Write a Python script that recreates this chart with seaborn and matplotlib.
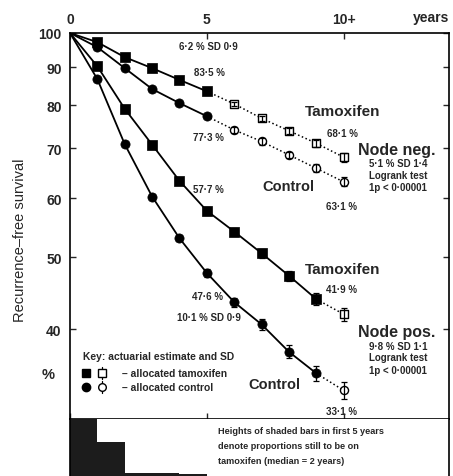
import numpy as np
import pandas as pd
import seaborn as sns
import matplotlib.pyplot as plt

# recurrence-free survival (%), years 0..10
years = [0, 1, 2, 3, 4, 5, 6, 7, 8, 9, 10]
neg_tam = [100, 97.2, 92.8, 89.7, 86.5, 83.5, 80.3, 76.8, 73.9, 71.1, 68.1]
neg_ctl = [100, 95.7, 89.7, 84.1, 80.5, 77.3, 74.1, 71.5, 68.6, 65.8, 63.1]
pos_tam = [100, 90.2, 79.1, 70.8, 63.3, 57.7, 54.1, 50.6, 47.2, 43.9, 41.9]
pos_ctl = [100, 86.7, 70.9, 60.3, 53.0, 47.6, 43.5, 40.6, 37.3, 34.9, 33.1]

neg_tam_sd = [0, 0.2, 0.3, 0.4, 0.4, 0.5, 0.6, 0.6, 0.7, 0.8, 0.9]
neg_ctl_sd = [0, 0.2, 0.3, 0.4, 0.5, 0.5, 0.6, 0.7, 0.7, 0.8, 0.9]
pos_tam_sd = [0, 0.3, 0.4, 0.5, 0.5, 0.6, 0.6, 0.7, 0.7, 0.8, 0.85]
pos_ctl_sd = [0, 0.3, 0.4, 0.5, 0.5, 0.6, 0.6, 0.7, 0.75, 0.8, 0.85]

# proportion still on tamoxifen, per year of first 5 years
bar_years = [0, 1, 2, 3, 4]
on_tam = [1.0, 0.6, 0.06, 0.06, 0.04]

ytick_vals = [40, 50, 60, 70, 80, 90, 100]
xtick_vals = [0, 5, 10]
xtick_labels = ['0', '5', '10+']

W, H = 453, 477


def fx(x, y):
    return x / W, 1 - y / H


sns.set_style('white')
plt.rcParams['font.family'] = ['Liberation Sans', 'DejaVu Sans']

fig = plt.figure(figsize=(W / 100, H / 100), dpi=100)
ax = fig.add_axes([70 / W, 1 - 420 / H, 379 / W, 386 / H])
ax2 = fig.add_axes([70 / W, 0, 379 / W, 57 / H])

ax.set_yscale('log')


def draw(vals, sd, marker, solid_to):
    sns.lineplot(x=years[:solid_to + 1], y=vals[:solid_to + 1], color='k', lw=1.3, ax=ax)
    sns.lineplot(x=years[solid_to:], y=vals[solid_to:], color='k', lw=1.1, ls=':', ax=ax)
    ax.errorbar(years[1:], vals[1:], yerr=sd[1:], fmt='none', ecolor='k',
                elinewidth=0.9, capsize=2, capthick=0.9, zorder=4)
    sns.scatterplot(x=years[1:solid_to + 1], y=vals[1:solid_to + 1], marker=marker, s=44,
                    color='k', edgecolor='k', linewidth=0.5, ax=ax, zorder=3)
    sns.scatterplot(x=years[solid_to + 1:], y=vals[solid_to + 1:], marker=marker, s=34,
                    color='white', edgecolor='k', linewidth=1.0, ax=ax, zorder=3)


draw(neg_tam, neg_tam_sd, 's', 5)
draw(neg_ctl, neg_ctl_sd, 'o', 5)
draw(pos_tam, pos_tam_sd, 's', 9)
draw(pos_ctl, pos_ctl_sd, 'o', 9)

ax.set_xlim(0, 13.85)
ax.set_ylim(30.3, 100)
ax.set_yticks(ytick_vals)
ax.set_yticklabels([str(v) for v in ytick_vals], fontsize=10, fontweight='bold')
ax.minorticks_off()
ax.set_xticks(xtick_vals)
ax.set_xticklabels(xtick_labels, fontsize=10, fontweight='bold')
ax.tick_params(axis='x', top=True, bottom=True, labeltop=True, labelbottom=False,
               direction='in', length=4, width=1, pad=5)
ax.tick_params(axis='y', left=True, right=True, direction='in', length=4, width=1, pad=6)
ax.set_xlabel('')
ax.set_ylabel('')
for s in ax.spines.values():
    s.set_color('k')
    s.set_linewidth(1.2)

# shaded bars: proportion still on tamoxifen
ax2.bar(bar_years, on_tam, width=1.0, align='edge', color='#1c1c1c', edgecolor='none')
ax2.set_xlim(0, 13.85)
ax2.set_ylim(0, 1.0)
ax2.set_xticks([])
ax2.set_yticks([])
ax2.spines['top'].set_visible(False)
ax2.spines['bottom'].set_visible(False)
for s in ['left', 'right']:
    ax2.spines[s].set_color('k')
    ax2.spines[s].set_linewidth(1.2)

# annotations
notes = [
    ('6·2 % SD 0·9', 208, 47, 7),
    ('83·5 %', 209, 73, 7),
    ('77·3 %', 208, 138, 7),
    ('57·7 %', 208, 190, 7),
    ('47·6 %', 208, 297, 7),
    ('10·1 % SD 0·9', 209, 318, 7),
    ('Tamoxifen', 343, 112, 11),
    ('68·1 %', 342, 134, 7),
    ('Node neg.', 397, 151, 11.5),
    ('5·1 % SD 1·4', 398, 164, 7),
    ('Logrank test', 398, 176, 7),
    ('1p < 0·00001', 398, 188, 7),
    ('Control', 288, 187, 10.5),
    ('63·1 %', 342, 207, 7),
    ('Tamoxifen', 343, 270, 11),
    ('41·9 %', 341, 290, 7),
    ('Node pos.', 397, 333, 11.5),
    ('9·8 % SD 1·1', 398, 347, 7),
    ('Logrank test', 398, 358, 7),
    ('1p < 0·00001', 398, 371, 7),
    ('Control', 274, 385, 10.5),
    ('33·1 %', 341, 412, 7),
    ('%', 48, 375, 10.5),
    ('years', 431, 18, 10),
]
for txt, x, y, fs in notes:
    fig.text(*fx(x, y), txt, ha='center', va='center', fontsize=fs, fontweight='bold')

fig.text(*fx(20, 240), 'Recurrence–free survival', rotation=90, ha='center', va='center',
         fontsize=10.5)

# key
fig.text(*fx(83, 357), 'Key: actuarial estimate and SD', ha='left', va='center',
         fontsize=7.4, fontweight='bold')
fig.text(*fx(122, 374), '– allocated tamoxifen', ha='left', va='center',
         fontsize=7.4, fontweight='bold')
fig.text(*fx(122, 388), '– allocated control', ha='left', va='center',
         fontsize=7.4, fontweight='bold')
for mk, yy in [('s', 374), ('o', 388)]:
    x0, y0 = fx(86, yy)
    x1, y1 = fx(102, yy)
    fig.lines.append(plt.Line2D([x0], [y0], marker=mk, ms=6, color='k', transform=fig.transFigure))
    fig.lines.append(plt.Line2D([x1, x1], [y1 - 6 / H, y1 + 6 / H], color='k', lw=0.9,
                                transform=fig.transFigure))
    fig.lines.append(plt.Line2D([x1], [y1], marker=mk, ms=5.5, mfc='white', mec='k', mew=1,
                                color='k', transform=fig.transFigure))

for i, line in enumerate(['Heights of shaded bars in first 5 years',
                          'denote proportions still to be on',
                          'tamoxifen (median = 2 years)']):
    fig.text(*fx(218, 432 + 15 * i), line, ha='left', va='center', fontsize=6.6,
             fontweight='bold')

fig.savefig('out.png', dpi=100)
